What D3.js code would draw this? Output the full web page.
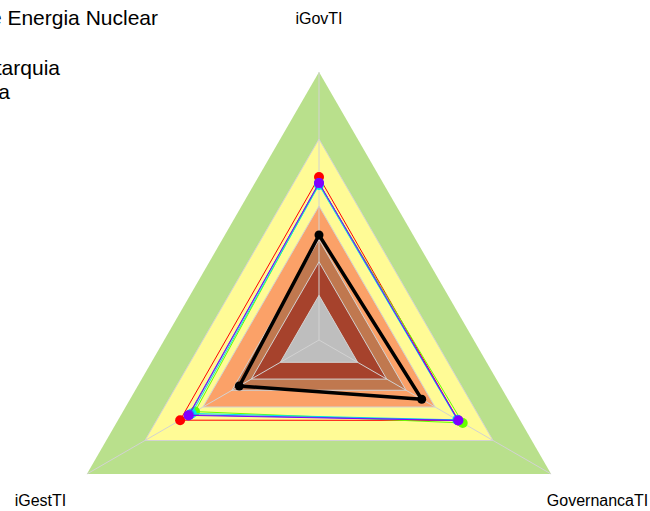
<!DOCTYPE html>
<html>
<head>
<meta charset="utf-8">
<script src="https://cdn.jsdelivr.net/npm/d3@7"></script>
<style>
  body { margin: 0; background: #fff; }
  svg { display: block; font-family: "Liberation Sans", Arial, sans-serif; }
</style>
</head>
<body>
<svg id="radar" width="650" height="511"></svg>
<script>
// axes, clockwise from the top
const axes = ["iGovTI", "GovernancaTI", "iGestTI"];

// capability bands (outer edge value) and their fills
const bandLevels = [1.0, 0.70, 0.40, 0.25, 0.15, 0];
const bandColors = ["#b9e08c", "#fffb96", "#fba168", "#c0784f", "#a6422c", "#bebebe"];

// series values, in the order of axes
const seriesNames = ["s1", "s2", "s3", "s4", "s5", "Comissão Nacional de Energia Nuclear"];
const seriesColors = ["#ff0000", "#66ff00", "#00e5e5", "#2f6bff", "#8000ff", "#000000"];
const red = [0.530, 0.520, 0.518];
const green = [0.500, 0.543, 0.441];
const cyan = [0.494, 0.515, 0.458];
const blue = [0.503, 0.518, 0.470];
const purple = [0.503, 0.521, 0.475];
const cnen = [0.270, 0.331, 0.212];
const seriesValues = [red, green, cyan, blue, purple, cnen];

const titleText = "Comissão Nacional de Energia Nuclear";
const legendLabels = ["Autarquia", "Média"];

const margin = { top: 72, left: 51 };
const R = 268;
const cx = margin.left + R, cy = margin.top + R;

const svg = d3.select("#radar");
const g = svg.append("g").attr("transform", `translate(${cx},${cy})`);

const rScale = d3.scaleLinear().domain([-0.2, 1]).range([0, R]);
const angle = d3.scaleLinear().domain([0, axes.length]).range([0, 2 * Math.PI]);

const radial = d3.lineRadial()
  .angle((d, i) => angle(i))
  .radius(d => rScale(d))
  .curve(d3.curveLinearClosed);

const pt = (v, i) => [Math.sin(angle(i)) * rScale(v), -Math.cos(angle(i)) * rScale(v)];

// bands
g.selectAll("path.band")
  .data(bandLevels)
  .enter()
  .append("path")
  .attr("class", "band")
  .attr("d", lv => radial(axes.map(() => lv)))
  .attr("fill", (lv, i) => bandColors[i]);

// grid lines on band edges
g.selectAll("path.grid")
  .data(bandLevels.slice(1))
  .enter()
  .append("path")
  .attr("class", "grid")
  .attr("d", lv => radial(axes.map(() => lv)))
  .attr("fill", "none")
  .attr("stroke", "#d2d2d2")
  .attr("stroke-width", 1);

// spokes
g.selectAll("line.spoke")
  .data(axes)
  .enter()
  .append("line")
  .attr("class", "spoke")
  .attr("x1", 0).attr("y1", 0)
  .attr("x2", (d, i) => pt(1, i)[0])
  .attr("y2", (d, i) => pt(1, i)[1])
  .attr("stroke", "#d2d2d2")
  .attr("stroke-width", 1);

// series
seriesValues.forEach((vals, s) => {
  const isMain = s === seriesValues.length - 1;
  g.append("path")
    .attr("d", radial(vals))
    .attr("fill", "none")
    .attr("stroke", seriesColors[s])
    .attr("stroke-width", isMain ? 3.5 : 1)
    .attr("stroke-linejoin", "round");
  g.selectAll(null)
    .data(vals)
    .enter()
    .append("circle")
    .attr("cx", (d, i) => pt(d, i)[0])
    .attr("cy", (d, i) => pt(d, i)[1])
    .attr("r", isMain ? 4.5 : 5)
    .attr("fill", seriesColors[s]);
});

// axis labels
g.selectAll("text.axis-label")
  .data(axes)
  .enter()
  .append("text")
  .attr("class", "axis-label")
  .attr("x", (d, i) => Math.sin(angle(i)) * R * 1.2)
  .attr("y", (d, i) => -Math.cos(angle(i)) * R * 1.2)
  .attr("dy", "0.35em")
  .attr("text-anchor", "middle")
  .attr("font-size", 16)
  .attr("fill", "#000")
  .text(d => d);

// title and legend text (partly off the left edge, as in the source)
svg.append("text")
  .attr("x", 158)
  .attr("y", 25)
  .attr("text-anchor", "end")
  .attr("font-size", 21)
  .text(titleText);

const legendRight = [60, 10];
svg.selectAll("text.legend")
  .data(legendLabels)
  .enter()
  .append("text")
  .attr("class", "legend")
  .attr("x", (d, i) => legendRight[i])
  .attr("y", (d, i) => 75 + i * 24)
  .attr("text-anchor", "end")
  .attr("font-size", 21)
  .text(d => d);
</script>
</body>
</html>
